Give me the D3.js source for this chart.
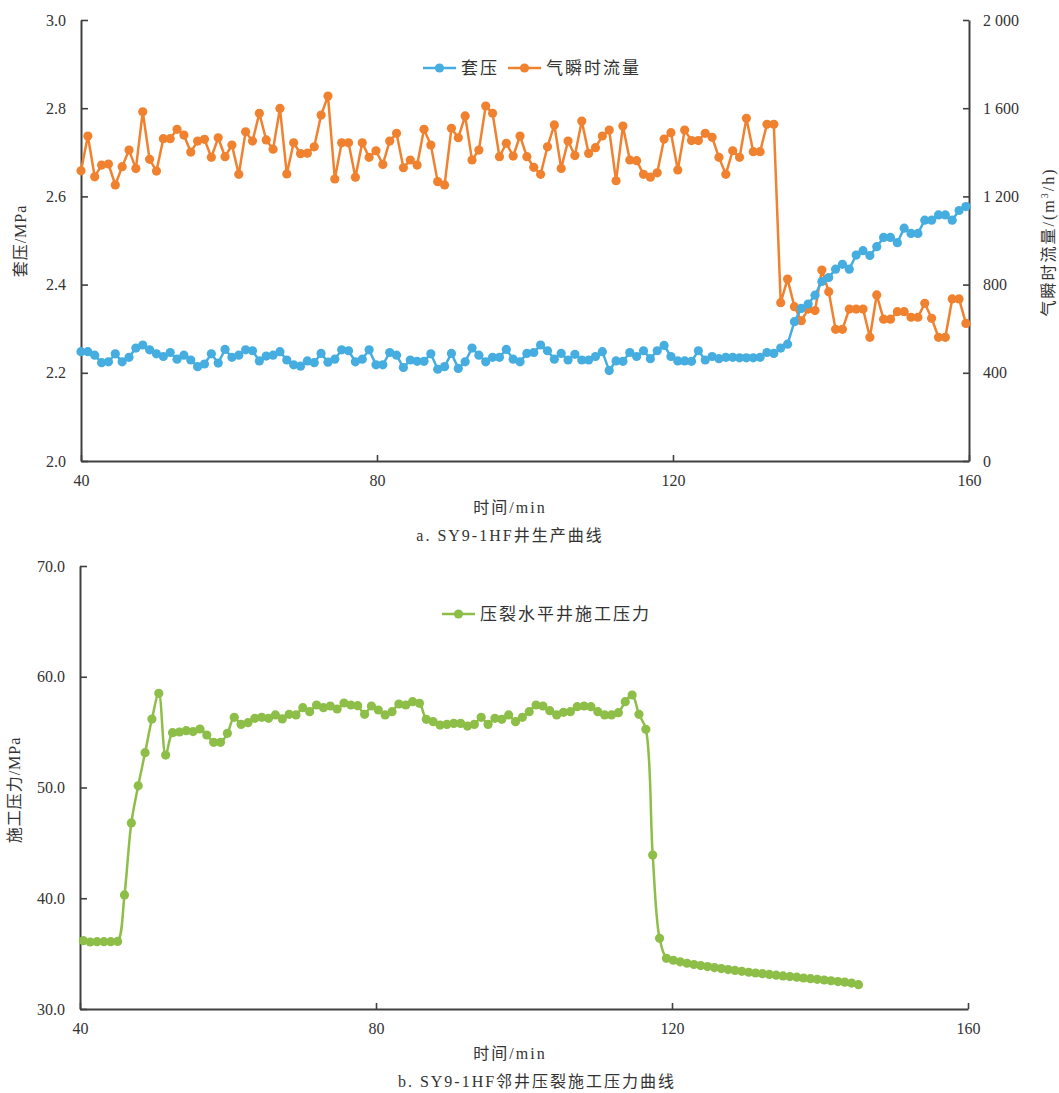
<!DOCTYPE html>
<html><head><meta charset="utf-8">
<script src="https://cdn.jsdelivr.net/npm/d3@7"></script>
<style>
html,body{margin:0;padding:0;background:#fff;}
text{font-family:"Liberation Serif","Noto Sans CJK SC",serif;fill:#333;}
.cjk{font-family:"Liberation Serif","Noto Sans CJK SC",sans-serif;}
</style></head>
<body><svg id="chart" width="1059" height="1093"></svg>
<script>
// ---------------- data ----------------
const xTicks = [40, 80, 120, 160];
const casingTicks = [2.0, 2.2, 2.4, 2.6, 2.8, 3.0];
const flowTicks = [0, 400, 800, 1200, 1600, 2000];
const fracTicks = [30, 40, 50, 60, 70];

const topStartMin = 40;
const bottomStartMin = 40.45;
const sampleStepMin = 0.927;

// 套压 (MPa)
const casingPressure = [
2.248,2.248,2.240,2.223,2.225,2.243,2.225,2.235,2.256,2.263,
2.252,2.243,2.237,2.246,2.231,2.240,2.229,2.214,2.220,2.243,
2.222,2.253,2.235,2.240,2.252,2.250,2.227,2.238,2.240,2.248,
2.229,2.218,2.215,2.227,2.223,2.244,2.224,2.231,2.252,2.250,
2.225,2.231,2.252,2.218,2.218,2.246,2.240,2.212,2.229,2.226,
2.226,2.243,2.208,2.214,2.244,2.210,2.225,2.256,2.240,2.225,
2.235,2.235,2.253,2.231,2.225,2.244,2.246,2.263,2.250,2.231,
2.244,2.229,2.242,2.229,2.229,2.237,2.248,2.205,2.227,2.226,
2.246,2.237,2.250,2.232,2.250,2.262,2.237,2.227,2.227,2.226,
2.250,2.229,2.237,2.232,2.235,2.235,2.234,2.234,2.234,2.235,
2.246,2.244,2.256,2.265,2.316,2.346,2.356,2.376,2.407,2.416,
2.435,2.446,2.435,2.467,2.477,2.466,2.486,2.507,2.507,2.495,
2.528,2.516,2.516,2.546,2.546,2.558,2.558,2.546,2.568,2.577
];
// 气瞬时流量 (m3/h)
const gasFlow = [
1316,1474,1289,1342,1347,1252,1335,1410,1326,1584,
1368,1315,1462,1462,1504,1478,1401,1451,1459,1377,
1466,1380,1433,1300,1493,1451,1577,1456,1414,1599,
1302,1443,1394,1396,1425,1569,1655,1279,1443,1443,
1287,1443,1377,1407,1345,1451,1486,1330,1365,1342,
1504,1433,1267,1252,1509,1466,1565,1365,1410,1610,
1577,1380,1441,1383,1474,1380,1332,1300,1425,1524,
1327,1451,1385,1542,1395,1421,1474,1501,1271,1519,
1365,1362,1300,1287,1307,1460,1489,1320,1501,1453,
1453,1486,1468,1377,1300,1407,1377,1554,1403,1403,
1527,1527,718,825,700,636,689,682,866,768,
597,597,689,689,689,561,753,643,643,677,
677,652,652,715,647,561,561,735,735,624
];
// 压裂水平井施工压力 (MPa)
const fracPressure = [
36.17,36.05,36.08,36.08,36.08,36.10,40.30,46.80,50.15,53.14,
56.18,58.50,52.93,54.95,55.01,55.13,55.05,55.28,54.74,54.08,
54.08,54.89,56.34,55.70,55.85,56.25,56.34,56.25,56.55,56.19,
56.61,56.55,57.21,56.85,57.45,57.21,57.36,57.09,57.63,57.45,
57.39,56.61,57.36,57.00,56.55,56.85,57.54,57.45,57.75,57.60,
56.16,55.94,55.64,55.70,55.79,55.79,55.55,55.70,56.34,55.70,
56.25,56.16,56.55,55.94,56.34,56.85,57.45,57.36,56.94,56.55,
56.79,56.85,57.30,57.36,57.30,56.85,56.55,56.55,56.76,57.75,
58.35,56.61,55.25,43.90,36.38,34.58,34.40,34.26,34.13,34.02,
33.92,33.83,33.74,33.65,33.56,33.48,33.40,33.32,33.25,33.19,
33.12,33.05,32.99,32.93,32.87,32.80,32.74,32.68,32.62,32.55,
32.48,32.42,32.34,32.20
];

const blue = "#45ADE0", orange = "#F0822F", green = "#8DBE48", axisCol = "#404040";

const svg = d3.select("#chart");

function fmtSpace(v){ return d3.format(",")(v).replace(/,/g, " "); }

// ---------------- top chart ----------------
const T = {left: 81, right: 969, top: 20, bottom: 461};
const xT = d3.scaleLinear().domain([40,160]).range([T.left, T.right]);
const yL = d3.scaleLinear().domain([2,3]).range([T.bottom, T.top]);
const yR = d3.scaleLinear().domain([0,2000]).range([T.bottom, T.top]);

const gTop = svg.append("g");
function styleAxis(g){
  g.select(".domain").attr("stroke", axisCol).attr("stroke-width", 2);
  g.selectAll(".tick line").attr("stroke", axisCol).attr("stroke-width", 1.6);
  g.selectAll(".tick text").attr("fill", "#333").attr("font-size", 16)
    .attr("font-family", "Liberation Serif, serif");
}
gTop.append("g").attr("transform", `translate(0,${T.bottom})`)
  .call(d3.axisBottom(xT).tickValues(xTicks).tickSize(-6).tickPadding(14).tickSizeOuter(0))
  .call(styleAxis);
gTop.append("g").attr("transform", `translate(${T.left},0)`)
  .call(d3.axisLeft(yL).tickValues(casingTicks).tickFormat(d3.format(".1f")).tickSize(-7).tickPadding(15).tickSizeOuter(0))
  .call(styleAxis);
gTop.append("g").attr("transform", `translate(${T.right},0)`)
  .call(d3.axisRight(yR).tickValues(flowTicks).tickFormat(fmtSpace).tickSize(-6).tickPadding(14).tickSizeOuter(0))
  .call(styleAxis);

const tTop = i => topStartMin + i * sampleStepMin;
const lineL = d3.line().x((d,i)=>xT(tTop(i))).y(d=>yL(d));
const lineR = d3.line().x((d,i)=>xT(tTop(i))).y(d=>yR(d));

const clipTop = svg.append("clipPath").attr("id","clipTop").append("rect")
  .attr("x", T.left).attr("y", T.top - 10).attr("width", T.right - T.left + 6).attr("height", T.bottom - T.top + 20);

const plotTop = gTop.append("g");
plotTop.append("path").datum(gasFlow).attr("d", lineR).attr("fill","none").attr("stroke", orange).attr("stroke-width", 2.5);
plotTop.selectAll("circle.o").data(gasFlow).join("circle").attr("class","o")
  .attr("cx",(d,i)=>xT(tTop(i))).attr("cy", d=>yR(d)).attr("r",4.6).attr("fill",orange);
plotTop.append("path").datum(casingPressure).attr("d", lineL).attr("fill","none").attr("stroke", blue).attr("stroke-width", 2.5);
plotTop.selectAll("circle.b").data(casingPressure).join("circle").attr("class","b")
  .attr("cx",(d,i)=>xT(tTop(i))).attr("cy", d=>yL(d)).attr("r",4.6).attr("fill",blue);

// legend top
function legendItem(g, x, y, color, label){
  g.append("line").attr("x1",x).attr("x2",x+33).attr("y1",y).attr("y2",y).attr("stroke",color).attr("stroke-width",2.5);
  g.append("circle").attr("cx",x+16.5).attr("cy",y).attr("r",4.6).attr("fill",color);
  g.append("text").attr("x",x+38).attr("y",y).attr("dy","0.35em").attr("font-size",17)
    .attr("letter-spacing",2).attr("font-family","Noto Sans CJK SC, sans-serif").attr("fill","#444").text(label);
}
legendItem(gTop, 423, 68, blue, "套压");
legendItem(gTop, 508, 68, orange, "气瞬时流量");

// titles
gTop.append("text").attr("transform","translate(20,241) rotate(-90)").attr("text-anchor","middle").attr("dy","0.35em")
  .attr("font-size",16).attr("letter-spacing",1)
  .html('<tspan font-family="Noto Sans CJK SC">套压</tspan><tspan font-family="Liberation Serif">/MPa</tspan>');
gTop.append("text").attr("transform","translate(1048,242) rotate(-90)").attr("text-anchor","middle").attr("dy","0.35em")
  .attr("font-size",16).attr("letter-spacing",2)
  .html('<tspan font-family="Noto Sans CJK SC">气瞬时流量</tspan><tspan font-family="Liberation Serif">/(m</tspan><tspan font-family="Liberation Serif" font-size="10" dy="-6">3</tspan><tspan font-family="Liberation Serif" dy="6">/h)</tspan>');
gTop.append("text").attr("x",510).attr("y",507).attr("text-anchor","middle").attr("dy","0.35em")
  .attr("font-size",16).attr("letter-spacing",2)
  .html('<tspan font-family="Noto Sans CJK SC">时间</tspan><tspan font-family="Liberation Serif">/min</tspan>');
gTop.append("text").attr("x",510).attr("y",535).attr("text-anchor","middle").attr("dy","0.35em")
  .attr("font-size",16).attr("letter-spacing",2)
  .html('<tspan font-family="Liberation Serif">a. SY9-1HF</tspan><tspan font-family="Noto Sans CJK SC">井生产曲线</tspan>');

// ---------------- bottom chart ----------------
const B = {left: 80, right: 968, top: 566, bottom: 1009};
const xB = d3.scaleLinear().domain([40,160]).range([B.left, B.right]);
const yB = d3.scaleLinear().domain([30,70]).range([B.bottom, B.top]);
const gBot = svg.append("g");
gBot.append("g").attr("transform", `translate(0,${B.bottom})`)
  .call(d3.axisBottom(xB).tickValues(xTicks).tickSize(-6).tickPadding(14).tickSizeOuter(0))
  .call(styleAxis);
gBot.append("g").attr("transform", `translate(${B.left},0)`)
  .call(d3.axisLeft(yB).tickValues(fracTicks).tickFormat(d3.format(".1f")).tickSize(-7).tickPadding(15).tickSizeOuter(0))
  .call(styleAxis);

const tBot = i => bottomStartMin + i * sampleStepMin;
const lineB = d3.line().x((d,i)=>xB(tBot(i))).y(d=>yB(d)).curve(d3.curveCatmullRom.alpha(0.5));
gBot.append("path").datum(fracPressure).attr("d", lineB).attr("fill","none").attr("stroke", green).attr("stroke-width", 2.5);
gBot.selectAll("circle.g").data(fracPressure).join("circle").attr("class","g")
  .attr("cx",(d,i)=>xB(tBot(i))).attr("cy", d=>yB(d)).attr("r",4.6).attr("fill",green);

legendItem(gBot, 442, 614, green, "压裂水平井施工压力");

gBot.append("text").attr("transform","translate(14,790) rotate(-90)").attr("text-anchor","middle").attr("dy","0.35em")
  .attr("font-size",16).attr("letter-spacing",1)
  .html('<tspan font-family="Noto Sans CJK SC">施工压力</tspan><tspan font-family="Liberation Serif">/MPa</tspan>');
gBot.append("text").attr("x",510).attr("y",1053).attr("text-anchor","middle").attr("dy","0.35em")
  .attr("font-size",16).attr("letter-spacing",2)
  .html('<tspan font-family="Noto Sans CJK SC">时间</tspan><tspan font-family="Liberation Serif">/min</tspan>');
gBot.append("text").attr("x",537).attr("y",1081).attr("text-anchor","middle").attr("dy","0.35em")
  .attr("font-size",16).attr("letter-spacing",2)
  .html('<tspan font-family="Liberation Serif">b. SY9-1HF</tspan><tspan font-family="Noto Sans CJK SC">邻井压裂施工压力曲线</tspan>');
</script></body></html>
